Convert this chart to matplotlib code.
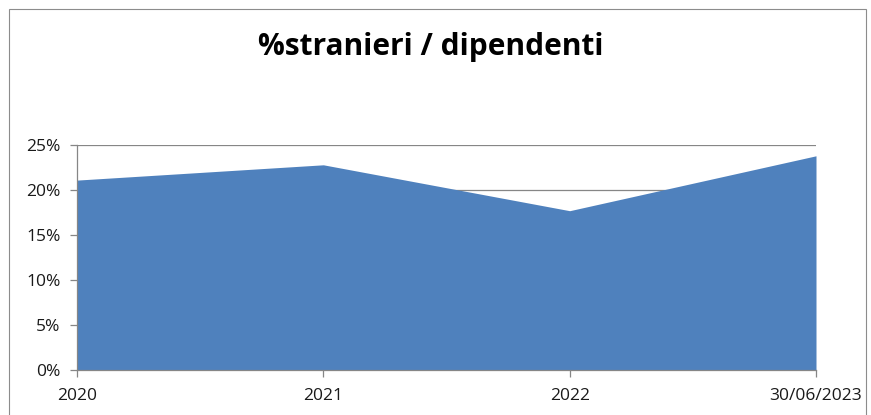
import matplotlib.pyplot as plt
from matplotlib.patches import Rectangle
from matplotlib.ticker import FuncFormatter

# data
periods = ["2020", "2021", "2022", "30/06/2023"]
pct_stranieri = [21.1, 22.8, 17.7, 23.8]
y_ticks = [0, 5, 10, 15, 20, 25]

plt.rcParams['font.family'] = ['Open Sans', 'DejaVu Sans']

fig = plt.figure(figsize=(8.71, 4.15), dpi=100)
W, H = 871, 415

# outer chart frame (excel style)
fig.patches.append(Rectangle((9 / W, -0.05), (866 - 9) / W, 1.05 - 9 / H,
                             transform=fig.transFigure, fill=False,
                             edgecolor='#8c8c8c', linewidth=0.8))

ax = fig.add_axes([77 / W, 1 - 370 / H, (816 - 77) / W, (370 - 145) / H])
x = list(range(len(periods)))
ax.fill_between(x, 0, pct_stranieri, color='#4f81bd', linewidth=0, zorder=2)

ax.set_xlim(0, len(periods) - 1)
ax.set_ylim(0, 25)
ax.set_yticks(y_ticks)
ax.yaxis.set_major_formatter(FuncFormatter(lambda v, p: f"{v:.0f}%"))
ax.set_xticks(x)
ax.set_xticklabels(periods)
ax.grid(axis='y', color='#868686', linewidth=0.9, zorder=1)
ax.set_axisbelow(True)

for s in ['top', 'right']:
    ax.spines[s].set_visible(False)
for s in ['left', 'bottom']:
    ax.spines[s].set_color('#868686')
    ax.spines[s].set_linewidth(0.9)
ax.tick_params(axis='both', colors='#868686', length=5, width=0.9,
               labelsize=12.5, labelcolor='#1a1a1a')
ax.tick_params(axis='y', pad=7)
ax.tick_params(axis='x', pad=8)

fig.text(431 / W, 1 - 47 / H, "%stranieri / dipendenti", ha='center',
         va='center', fontsize=21.5, fontweight='bold')

fig.savefig("out.png", dpi=100)
